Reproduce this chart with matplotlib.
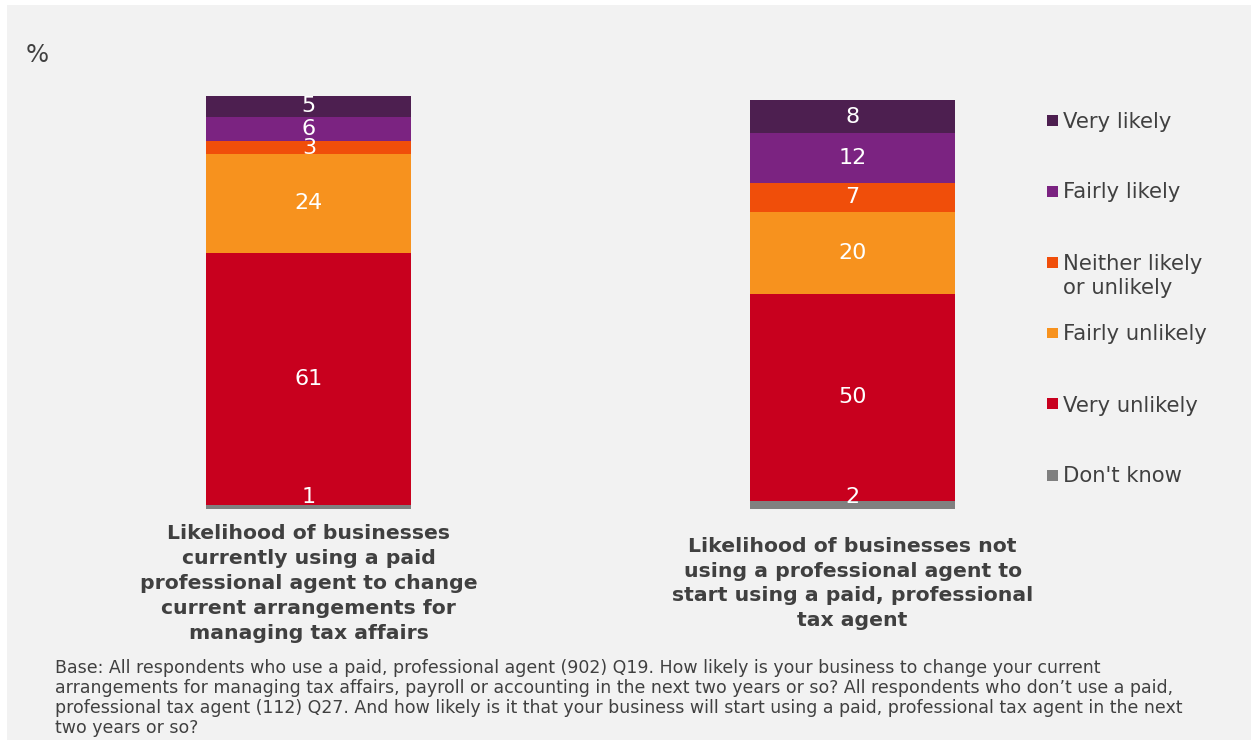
import matplotlib
matplotlib.use("Agg")
import matplotlib.pyplot as plt
from matplotlib.patches import Rectangle

# ---- data -------------------------------------------------------------
categories = [
    "Likelihood of businesses\ncurrently using a paid\nprofessional agent to change\ncurrent arrangements for\nmanaging tax affairs",
    "Likelihood of businesses not\nusing a professional agent to\nstart using a paid, professional\ntax agent",
]
# stacked bottom -> top
series_names = ["Don't know", "Very unlikely", "Fairly unlikely",
                "Neither likely\nor unlikely", "Fairly likely", "Very likely"]
dont_know = [1, 2]
very_unlikely = [61, 50]
fairly_unlikely = [24, 20]
neither = [3, 7]
fairly_likely = [6, 12]
very_likely = [5, 8]
series_values = [dont_know, very_unlikely, fairly_unlikely, neither,
                 fairly_likely, very_likely]
series_colors = ["#808080", "#c8001e", "#f7921e", "#f04e0a", "#7b2381", "#4d1f50"]

footnote_lines = [
    "Base: All respondents who use a paid, professional agent (902) Q19. How likely is your business to change your current",
    "arrangements for managing tax affairs, payroll or accounting in the next two years or so? All respondents who don\u2019t use a paid,",
    "professional tax agent (112) Q27. And how likely is it that your business will start using a paid, professional tax agent in the next",
    "two years or so?",
]

# ---- figure -----------------------------------------------------------
W, H = 1251, 740
fig = plt.figure(figsize=(W / 100, H / 100), dpi=100, facecolor="white")
plt.rcParams["font.family"] = ["DejaVu Sans"]


def fx(px):
    return px / W


def fy(py):
    return 1 - py / H


# light grey panel behind everything
fig.patches.append(Rectangle((fx(7), 0), 1 - fx(7), fy(5), transform=fig.transFigure,
                             facecolor="#f2f2f2", edgecolor="none", zorder=-10))

base_px, top_px = 509, 96
ax = fig.add_axes([fx(37), fy(base_px), fx(1124.5) - fx(37), (base_px - top_px) / H])
ax.set_zorder(1)
ax.set_xlim(-0.5, 1.5)
ax.set_ylim(0, 100)
ax.axis("off")
ax.patch.set_alpha(0)

x = list(range(len(categories)))
bar_w = 0.377
bottoms = [0.0] * len(categories)
for name, vals, col in zip(series_names, series_values, series_colors):
    ax.bar(x, vals, bar_w, bottom=bottoms, color=col, edgecolor="none", label=name, zorder=2)
    for i, v in enumerate(vals):
        yc = max(bottoms[i] + v / 2, 3.0)
        ax.text(x[i], yc, str(v), ha="center", va="center", color="white",
                fontsize=16, zorder=3)
    bottoms = [b + v for b, v in zip(bottoms, vals)]

# category labels under the bars
cat_fs = 14.7
line_gap = 24.8
for i, lab in enumerate(categories):
    lines = lab.split("\n")
    xc = ax.transData.transform((x[i], 0))[0] / fig.dpi / fig.get_figwidth()
    first = 589 - (len(lines) - 1) * line_gap / 2
    for k, ln in enumerate(lines):
        fig.text(xc, fy(first + k * line_gap), ln, ha="center", va="baseline",
                 fontsize=cat_fs, fontweight="bold", color="#404040")

# legend, top entry first
leg_fs = 15.2
leg_y0, leg_step = 120, 71
for k, (name, col) in enumerate(zip(series_names[::-1], series_colors[::-1])):
    yc = leg_y0 + k * leg_step
    fig.patches.append(Rectangle((fx(1047), fy(yc + 5.5)), 11 / W, 11 / H,
                                 transform=fig.transFigure, facecolor=col,
                                 edgecolor="none", zorder=3))
    for j, ln in enumerate(name.split("\n")):
        fig.text(fx(1063), fy(yc + 7.5 + j * 25), ln, ha="left", va="baseline",
                 fontsize=leg_fs, color="#404040")

# unit marker
fig.text(fx(26), fy(62), "%", ha="left", va="baseline", fontsize=17.5, color="#404040")

# footnote
for k, ln in enumerate(footnote_lines):
    fig.text(fx(55), fy(673 + k * 20), ln, ha="left", va="baseline",
             fontsize=12.55, color="#404040")

fig.savefig("out.png", dpi=100, facecolor=fig.get_facecolor())
